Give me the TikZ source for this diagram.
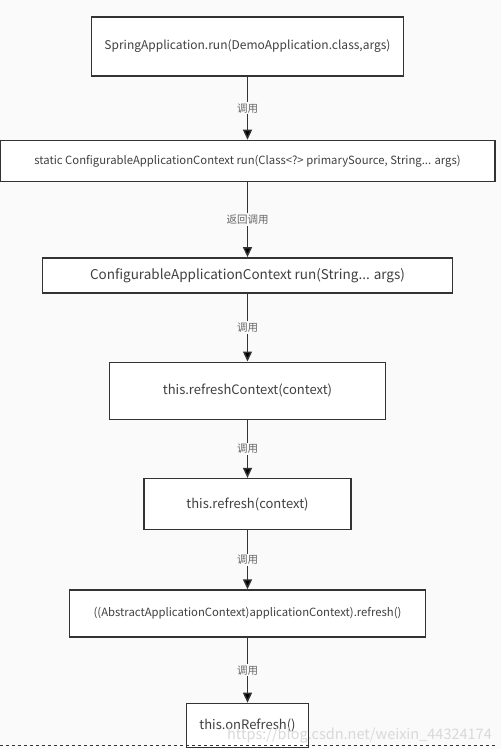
\documentclass[tikz,border=0pt]{standalone}
\usepackage{fontspec}
\setmainfont{Noto Sans CJK SC}
\usetikzlibrary{arrows.meta,positioning}

\begin{document}
\begin{tikzpicture}[x=1pt, y=1pt, >={Triangle[length=10pt,width=9pt]},
	box/.style={draw=black!80, line width=1.4pt, fill=white, text=black!75,
		font=\fontsize{12}{14}\selectfont, inner sep=0pt},
	call/.style={fill=gray!4, text=black!60, font=\fontsize{10.5}{12}\selectfont, inner sep=1.5pt},
	flow/.style={->, draw=black!80, line width=1.4pt}]

	% Background and page size
	\fill [gray!4] (0,0) rectangle (501,-749);
	\useasboundingbox (0,0) rectangle (501,-749);

	% Nodes {spring, staticrun, ctxrun, refctx, refresh, absrefresh, onrefresh}
	\node [box, minimum width=312pt, minimum height=59pt] (spring) at (247.5,-46.5)
		{SpringApplication.run(DemoApplication.class,args)};
	\node [box, minimum width=495pt, minimum height=41pt, font=\fontsize{11.3}{13}\selectfont]
		(staticrun) [below=63pt of spring]
		{static ConfigurableApplicationContext run(Class<?> primarySource, String... args)};
	\node [box, minimum width=410pt, minimum height=35pt, font=\fontsize{13.5}{15}\selectfont]
		(ctxrun) [below=75pt of staticrun]
		{ConfigurableApplicationContext run(String... args)};
	\node [box, minimum width=276pt, minimum height=57pt, font=\fontsize{13}{15}\selectfont]
		(refctx) [below=68pt of ctxrun]
		{this.refreshContext(context)};
	\node [box, minimum width=207pt, minimum height=51pt, font=\fontsize{13}{15}\selectfont]
		(refresh) [below=58pt of refctx]
		{this.refresh(context)};
	\node [box, minimum width=356pt, minimum height=47pt, font=\fontsize{11.3}{13}\selectfont]
		(absrefresh) [below=59pt of refresh]
		{((AbstractApplicationContext)applicationContext).refresh()};
	\node [box, minimum width=122pt, minimum height=44pt, font=\fontsize{13}{15}\selectfont]
		(onrefresh) [below=65pt of absrefresh]
		{this.onRefresh()};

	% Calls between the steps
	\path [flow] (spring) 		edge node [call] {调用} 		(staticrun);
	\path [flow] (staticrun) 	edge node [call] {返回调用} 	(ctxrun);
	\path [flow] (ctxrun) 		edge node [call] {调用} 		(refctx);
	\path [flow] (refctx) 		edge node [call] {调用} 		(refresh);
	\path [flow] (refresh) 		edge node [call] {调用} 		(absrefresh);
	\path [flow] (absrefresh) 	edge node [call] {调用} 		(onrefresh);

	% Watermark and cut line
	\node [text=gray!30, font=\fontsize{14.5}{15}\selectfont, anchor=base east, inner sep=0pt] (mark)
		at (492,-739) {https://blog.csdn.net/weixin\_44324174};
	\draw [dashed, black!80, line width=0.8pt] (0,-745) -- (497,-745);

\end{tikzpicture}
\end{document}
